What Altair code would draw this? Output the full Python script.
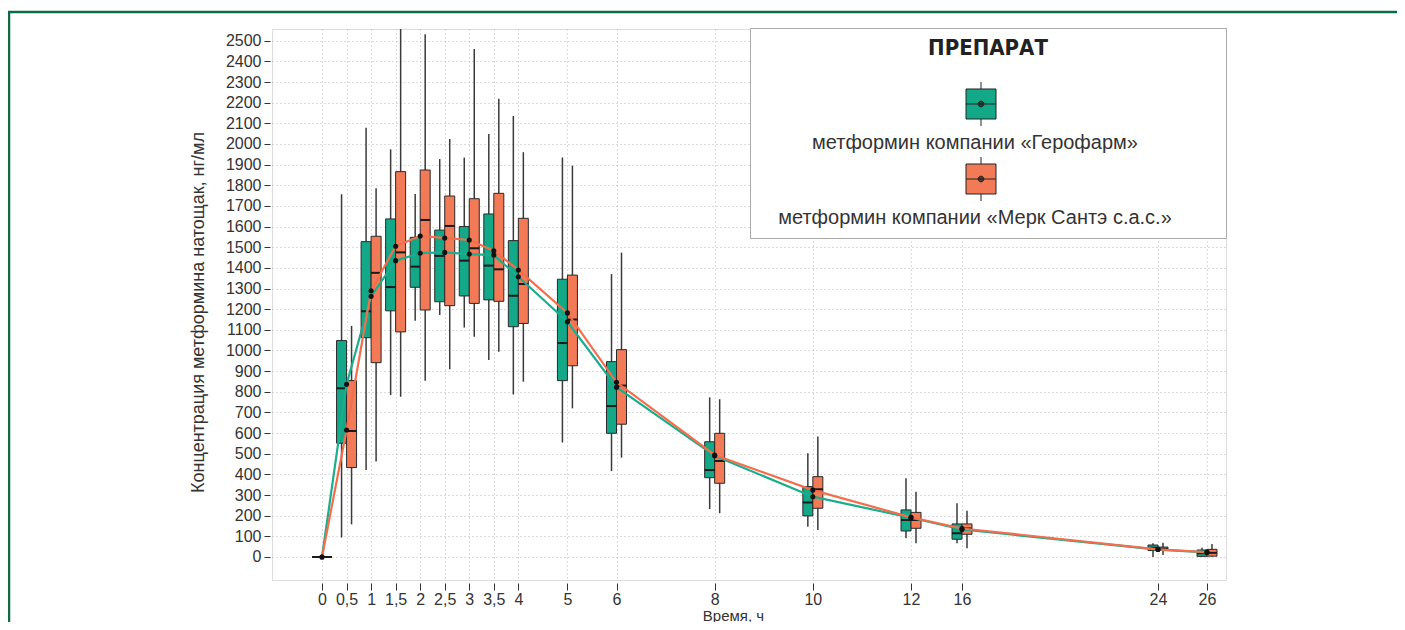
import altair as alt
import pandas as pd

# ---------------- data ----------------
times = [0, 0.5, 1, 1.5, 2, 2.5, 3, 3.5, 4, 5, 6, 8, 10, 12, 16, 24, 26]
groups = ["метформин компании «Герофарм»", "метформин компании «Мерк Сантэ с.а.с.»"]

ger_min = [0, 95, 421, 784, 1144, 1172, 1111, 954, 787, 554, 416, 232, 147, 91, 66, 0, 0]
ger_q1 = [0, 551, 1062, 1192, 1306, 1236, 1264, 1245, 1115, 854, 599, 384, 199, 126, 86, 31, 3]
ger_med = [0, 817, 1190, 1307, 1406, 1458, 1435, 1411, 1265, 1036, 731, 421, 264, 179, 115, 45, 18]
ger_q3 = [0, 1048, 1527, 1637, 1548, 1583, 1600, 1661, 1532, 1345, 946, 558, 341, 228, 160, 58, 34]
ger_max = [0, 1756, 2079, 1974, 1758, 1927, 1934, 2048, 2136, 1935, 1370, 773, 502, 381, 260, 66, 45]
ger_mean = [0, 836, 1262, 1435, 1471, 1475, 1467, 1462, 1357, 1139, 822, 490, 292, 190, 133, 36, 22]

merck_min = [0, 158, 462, 776, 854, 909, 1067, 994, 849, 720, 481, 212, 131, 66, 42, 10, 2]
merck_q1 = [0, 433, 941, 1090, 1196, 1217, 1228, 1238, 1131, 926, 643, 357, 236, 139, 110, 33, 4]
merck_med = [0, 610, 1376, 1475, 1632, 1603, 1495, 1393, 1322, 1150, 830, 465, 328, 179, 138, 40, 20]
merck_q3 = [0, 854, 1553, 1866, 1874, 1748, 1735, 1761, 1640, 1365, 1004, 599, 389, 216, 160, 48, 37]
merck_max = [0, 1119, 1786, 2557, 2531, 2024, 2460, 2219, 1960, 1895, 1474, 764, 583, 316, 224, 69, 63]
merck_mean = [0, 615, 1289, 1505, 1554, 1545, 1535, 1483, 1390, 1182, 846, 494, 324, 192, 138, 37, 24]

y_ticks = list(range(0, 2600, 100))

# ---------------- styling ----------------
GREEN = "#13a887"
ORANGE = "#f27a57"
INK = "#333333"
FONT = "Liberation Sans"
NARROW = "Liberation Sans Narrow, Arial Narrow, DejaVu Sans Condensed, Liberation Sans"
FRAME = "#0f6b45"


def frame(name, lo, q1, med, q3, hi, mean):
    return pd.DataFrame({"t": times, "group": name, "lo": lo, "q1": q1,
                         "med": med, "q3": q3, "hi": hi, "mean": mean})


df_g = frame(groups[0], ger_min, ger_q1, ger_med, ger_q3, ger_max, ger_mean)
df_o = frame(groups[1], merck_min, merck_q1, merck_med, merck_q3, merck_max, merck_mean)

# piecewise time axis (compressed after 12 h)
x_scale = alt.Scale(domain=[-1.019, 12, 16, 24, 26.776], range=[0, 639, 690, 886, 954],
                    nice=False, zero=False)
y_scale = alt.Scale(domain=[-111.4, 2556.7], nice=False, zero=False)

x_axis = alt.Axis(values=times, title="Время, ч", format="~g",
                  labelExpr="replace(format(datum.value, '~g'), '.', ',')",
                  grid=True, gridDash=[1, 3], gridColor="#b8b8b8", gridWidth=1,
                  domain=False, tickSize=7, tickColor=INK, offset=3,
                  labelFont=FONT, labelFontSize=16, labelColor=INK, labelPadding=1,
                  titleFont=FONT, titleFontSize=15, titleFontWeight="normal", titleColor=INK,
                  titleX=461, titleY=37, titleBaseline="alphabetic", titleAlign="center")
y_axis = alt.Axis(values=y_ticks, title="Концентрация метформина натощак, нг/мл", format="d",
                  grid=True, gridDash=[1, 3], gridColor="#b8b8b8", gridWidth=1,
                  domain=False, tickSize=6, tickColor=INK, offset=2,
                  labelFont=FONT, labelFontSize=16, labelColor=INK, labelPadding=3,
                  titleFont=FONT, titleFontSize=18, titleFontWeight="normal", titleColor=INK,
                  titleX=-72, titleY=283, titleBaseline="middle", titleAlign="center", titleAngle=270)

# legend symbol: a little box plot drawn above the label; the trailing moveto
# only widens the legend box on the right, as in the reference
SYM = ("M8.341,-2.0H9.705V-0.636H8.341Z"
       "M9.023,-2.318V-2.0M9.023,-0.636V-0.318"
       "M8.341,-1.318H9.705"
       "M9.043,-1.318A0.02,0.02 0 1 1 9.003,-1.318A0.02,0.02 0 1 1 9.043,-1.318Z"
       "M9.083,-1.318A0.06,0.06 0 1 1 8.963,-1.318A0.06,0.06 0 1 1 9.083,-1.318Z"
       "M9.123,-1.318A0.1,0.1 0 1 1 8.923,-1.318A0.1,0.1 0 1 1 9.123,-1.318Z"
       "M9.153,-1.318A0.13,0.13 0 1 1 8.893,-1.318A0.13,0.13 0 1 1 9.153,-1.318Z"
       "M19.57,-1.318")

legend = alt.Legend(title="ПРЕПАРАТ", orient="none", legendX=478, legendY=-1,
                    symbolType=SYM, symbolSize=1936, symbolStrokeColor="#222222",
                    symbolStrokeWidth=1, symbolOpacity=1,
                    labelAlign="center", labelBaseline="top", labelOffset=170,
                    labelFont=FONT, labelFontSize=20, labelColor=INK, labelLimit=600,
                    titleFont=NARROW, titleFontSize=22, titleFontWeight="bold",
                    titleColor="#222222", titleAnchor="middle", titleAlign="center",
                    titlePadding=50.5, rowPadding=1, padding=10,
                    fillColor="white", strokeColor="#aaaaaa")

color = alt.Color("group:N", scale=alt.Scale(domain=groups, range=[GREEN, ORANGE]),
                  legend=legend)

X = alt.X("t:Q", scale=x_scale, axis=x_axis)
X2 = alt.X2("t")


def layers(df, side):
    base = alt.Chart(df)
    c = -5 if side < 0 else 5
    a, b = (-10, 0) if side < 0 else (0, 10)
    whisk = base.mark_rule(color="#3a3a3a", strokeWidth=1.5, xOffset=c).encode(
        x=X, y=alt.Y("lo:Q", scale=y_scale, axis=y_axis), y2="hi:Q")
    box = base.mark_rect(stroke="#2a2a2a", strokeWidth=1, xOffset=a, x2Offset=b, opacity=1).encode(
        x=X, x2=X2, y=alt.Y("q1:Q", scale=y_scale, axis=y_axis), y2="q3:Q", color=color)
    med = base.mark_rule(color="#1a1a1a", strokeWidth=2, xOffset=a, x2Offset=b).encode(
        x=X, x2=X2, y=alt.Y("med:Q", scale=y_scale, axis=y_axis))
    return whisk, box, med


wg, bg, mg = layers(df_g, -1)
wo, bo, mo = layers(df_o, 1)

line_g = alt.Chart(df_g).mark_line(color="#1bad8d", strokeWidth=2.2).encode(
    x=X, y=alt.Y("mean:Q", scale=y_scale, axis=y_axis))
line_o = alt.Chart(df_o).mark_line(color="#f26e4c", strokeWidth=2.2).encode(
    x=X, y=alt.Y("mean:Q", scale=y_scale, axis=y_axis))
dots = alt.Chart(pd.concat([df_g, df_o])).mark_circle(color="#111111", size=26, opacity=1).encode(
    x=X, y=alt.Y("mean:Q", scale=y_scale, axis=y_axis))

border = alt.Chart(pd.DataFrame({"k": [0]})).mark_rect(
    fill=None, stroke=FRAME, strokeWidth=2.5).encode(
    x=alt.value(-263), x2=alt.value(1200), y=alt.value(-17), y2=alt.value(640))

chart = alt.layer(wg, wo, bg, bo, mg, mo, line_g, line_o, dots, border).properties(
    width=954, height=551,
    autosize=alt.AutoSizeParams(type="none"),
    padding={"left": 264, "top": 21, "right": 171, "bottom": 42},
).configure_view(stroke=None).configure(background="white")

chart.save("out.html", embed_options={"renderer": "svg", "actions": False})
